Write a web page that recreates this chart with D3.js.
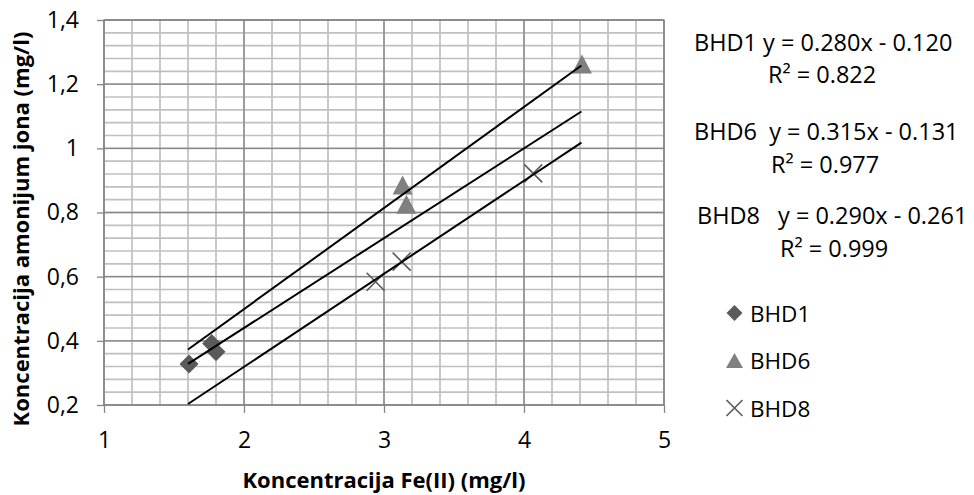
<!DOCTYPE html>
<html>
<head>
<meta charset="utf-8">
<script src="https://cdn.jsdelivr.net/npm/d3@7"></script>
<style>
  body { margin: 0; background: #fff; }
  svg { font-family: "Open Sans", sans-serif; }
</style>
</head>
<body>
<div id="chart"></div>
<script>
// series values
const seriesNames = ['BHD1', 'BHD6', 'BHD8'];
const bhd1X = [1.607, 1.769, 1.80];
const bhd1Y = [0.328, 0.392, 0.366];
const bhd6X = [3.133, 3.16, 4.414];
const bhd6Y = [0.886, 0.826, 1.263];
const bhd8X = [2.94, 3.126, 4.066];
const bhd8Y = [0.584, 0.647, 0.922];

// trend lines, in the order they are listed on the right
const slopes = [0.280, 0.315, 0.290];
const intercepts = [-0.120, -0.131, -0.261];
const rSquared = [0.822, 0.977, 0.999];
const trendRange = [1.6, 4.41];

const xTicks = [1, 2, 3, 4, 5];
const yTicks = [0.2, 0.4, 0.6, 0.8, 1.0, 1.2, 1.4];
const xTitle = 'Koncentracija Fe(II) (mg/l)';
const yTitle = 'Koncentracija amonijum jona (mg/l)';

const width = 974, height = 495;
const svg = d3.select('#chart').append('svg')
    .attr('width', width)
    .attr('height', height);

const x = d3.scaleLinear().domain([1, 5]).range([104, 664]);
const y = d3.scaleLinear().domain([0.2, 1.4]).range([405, 20]);

// grid
const grid = svg.append('g');
const minorX = d3.range(1, 5.0001, 0.2);
const minorY = d3.range(0.2, 1.4001, 0.04);
grid.selectAll('.mx').data(minorX).enter().append('line')
    .attr('x1', d => x(d)).attr('x2', d => x(d))
    .attr('y1', y(0.2)).attr('y2', y(1.4))
    .attr('stroke', '#c0c0c0').attr('stroke-width', 1.7);
grid.selectAll('.my').data(minorY).enter().append('line')
    .attr('y1', d => y(d)).attr('y2', d => y(d))
    .attr('x1', x(1)).attr('x2', x(5))
    .attr('stroke', '#c0c0c0').attr('stroke-width', 1.7);
grid.selectAll('.Mx').data(xTicks).enter().append('line')
    .attr('x1', d => x(d)).attr('x2', d => x(d))
    .attr('y1', y(0.2)).attr('y2', y(1.4))
    .attr('stroke', '#868686').attr('stroke-width', 1.3);
grid.selectAll('.My').data(yTicks).enter().append('line')
    .attr('y1', d => y(d)).attr('y2', d => y(d))
    .attr('x1', x(1)).attr('x2', x(5))
    .attr('stroke', '#868686').attr('stroke-width', 1.3);
grid.append('rect')
    .attr('x', x(1)).attr('y', y(1.4))
    .attr('width', x(5) - x(1)).attr('height', y(0.2) - y(1.4))
    .attr('fill', 'none').attr('stroke', '#868686').attr('stroke-width', 1.3);

// axes
const fmt = v => String(+v.toFixed(1)).replace('.', ',');
const yAxis = svg.append('g')
    .attr('transform', `translate(${x(1)},0)`)
    .call(d3.axisLeft(y).tickValues(yTicks).tickFormat(fmt).tickSize(7).tickSizeOuter(0).tickPadding(18));
const xAxis = svg.append('g')
    .attr('transform', `translate(0,${y(0.2)})`)
    .call(d3.axisBottom(x).tickValues(xTicks).tickFormat(fmt).tickSize(8).tickSizeOuter(0).tickPadding(19));
[xAxis, yAxis].forEach(a => {
    a.select('.domain').remove();
    a.selectAll('line').attr('stroke', '#868686').attr('stroke-width', 1.3);
    a.selectAll('text').attr('font-size', 23).attr('fill', '#000')
        .attr('font-family', '"Open Sans", sans-serif');
});

// axis titles
svg.append('text')
    .attr('x', 384).attr('y', 488)
    .attr('text-anchor', 'middle')
    .attr('font-size', 22).attr('font-weight', 'bold')
    .text(xTitle);
svg.append('text')
    .attr('transform', 'translate(29,229) rotate(-90)')
    .attr('text-anchor', 'middle')
    .attr('font-size', 22).attr('font-weight', 'bold')
    .text(yTitle);

// markers
const plot = svg.append('g');
const diamond = (cx, cy, r) => `M${cx},${cy - r}L${cx + r},${cy}L${cx},${cy + r}L${cx - r},${cy}Z`;
const triangle = (cx, cy, w, h) => `M${cx},${cy - h / 2}L${cx + w / 2},${cy + h / 2}L${cx - w / 2},${cy + h / 2}Z`;
const cross = (cx, cy, r) => `M${cx - r},${cy - r}L${cx + r},${cy + r}M${cx - r},${cy + r}L${cx + r},${cy - r}`;

plot.selectAll('.d').data(bhd1X).enter().append('path')
    .attr('d', (d, i) => diamond(x(d), y(bhd1Y[i]), 9.5))
    .attr('fill', '#5a5a5a');
plot.selectAll('.t').data(bhd6X).enter().append('path')
    .attr('d', (d, i) => triangle(x(d), y(bhd6Y[i]), 20, 19))
    .attr('fill', '#808080');
plot.selectAll('.c').data(bhd8X).enter().append('path')
    .attr('d', (d, i) => cross(x(d), y(bhd8Y[i]), 9))
    .attr('fill', 'none').attr('stroke', '#5a5a5a').attr('stroke-width', 1.6);

// trend lines
plot.selectAll('.trend').data(slopes).enter().append('line')
    .attr('x1', x(trendRange[0])).attr('x2', x(trendRange[1]))
    .attr('y1', (m, i) => y(m * trendRange[0] + intercepts[i]))
    .attr('y2', (m, i) => y(m * trendRange[1] + intercepts[i]))
    .attr('stroke', '#000').attr('stroke-width', 2);

// equations
const eq = i => `y = ${slopes[i].toFixed(3)}x - ${(-intercepts[i]).toFixed(3)}`;
const eqLayout = [
    { name: [694, 51], eq: null, r2: [768, 83] },
    { name: [694, 140], eq: null, r2: [771, 173] },
    { name: [697, 224], eq: [778, 224], r2: [780, 257] }
];
const eqGroup = svg.append('g').attr('font-size', 23.5).attr('fill', '#000');
eqLayout.forEach((l, i) => {
    if (l.eq) {
        eqGroup.append('text').attr('x', l.name[0]).attr('y', l.name[1]).text(seriesNames[i]);
        eqGroup.append('text').attr('x', l.eq[0]).attr('y', l.eq[1]).text(eq(i));
    } else {
        eqGroup.append('text').attr('x', l.name[0]).attr('y', l.name[1])
            .attr('xml:space', 'preserve')
            .text(seriesNames[i] + (i === 1 ? '  ' : ' ') + eq(i));
    }
    eqGroup.append('text').attr('x', l.r2[0]).attr('y', l.r2[1])
        .text(`R² = ${rSquared[i].toFixed(3)}`);
});

// legend
const legend = svg.append('g').attr('font-size', 22.5);
seriesNames.forEach((name, i) => {
    const cy = 313 + i * 47.5;
    const cx = 734.5;
    if (i === 0) legend.append('path').attr('d', diamond(cx, cy, 8)).attr('fill', '#5a5a5a');
    if (i === 1) legend.append('path').attr('d', triangle(cx, cy, 17, 15)).attr('fill', '#808080');
    if (i === 2) legend.append('path').attr('d', cross(cx, cy, 8))
        .attr('fill', 'none').attr('stroke', '#5a5a5a').attr('stroke-width', 1.6);
    legend.append('text').attr('x', 750).attr('y', cy + 8.5).text(name);
});
</script>
</body>
</html>
